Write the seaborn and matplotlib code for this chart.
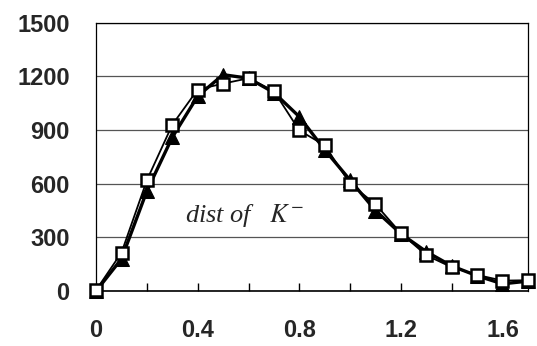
import pandas as pd
import seaborn as sns
import matplotlib.pyplot as plt
from matplotlib.ticker import MultipleLocator, FixedLocator

# data
x_vals = [0.0, 0.1, 0.2, 0.3, 0.4, 0.5, 0.6, 0.7, 0.8, 0.9,
          1.0, 1.1, 1.2, 1.3, 1.4, 1.5, 1.6, 1.7]
tri_vals = [0, 180, 560, 860, 1090, 1210, 1190, 1110, 975, 790,
            620, 450, 320, 220, 140, 85, 40, 55]
sq_vals = [5, 215, 620, 930, 1127, 1160, 1190, 1118, 898, 815,
           600, 485, 323, 200, 133, 90, 58, 60]
x_labels = ['0', '0.4', '0.8', '1.2', '1.6']
y_ticks = [0, 300, 600, 900, 1200, 1500]

df = pd.DataFrame({'x': x_vals, 'tri': tri_vals, 'sq': sq_vals})

sns.set_style('white')
plt.rcParams['font.family'] = ['Liberation Sans', 'DejaVu Sans']
plt.rcParams['mathtext.fontset'] = 'stix'

fig = plt.figure(figsize=(5.37, 3.46), dpi=100)
ax = fig.add_axes([0.179, 0.159, 0.804, 0.775])

sns.lineplot(data=df, x='x', y='tri', ax=ax, color='black', linewidth=2.4,
             marker='^', markersize=10, markerfacecolor='black',
             markeredgecolor='black', zorder=3, clip_on=False)
sns.lineplot(data=df, x='x', y='sq', ax=ax, color='black', linewidth=1.3,
             marker='s', markersize=9, markerfacecolor='white',
             markeredgecolor='black', markeredgewidth=1.8, zorder=4,
             clip_on=False)

ax.set_xlim(0, 1.7)
ax.set_ylim(0, 1500)
ax.xaxis.set_major_locator(FixedLocator([0, 0.4, 0.8, 1.2, 1.6]))
ax.set_xticklabels(x_labels)
ax.xaxis.set_minor_locator(MultipleLocator(0.2))
ax.set_yticks(y_ticks)
ax.yaxis.grid(True, color='#555555', linewidth=0.9)
ax.set_xlabel('')
ax.set_ylabel('')

for s in ax.spines.values():
    s.set_color('black')
    s.set_linewidth(0.9)
ax.spines['bottom'].set_linewidth(1.2)

ax.tick_params(axis='x', which='both', direction='in', length=6, width=1,
               bottom=True, color='black')
ax.tick_params(axis='x', which='major', labelsize=17, pad=20)
ax.tick_params(axis='y', length=0, labelsize=17, pad=19)
for lab in ax.get_xticklabels() + ax.get_yticklabels():
    lab.set_fontweight('bold')

ax.text(0.585, 424, 'dist of   $K^{-}$', fontsize=19, style='italic',
        family='Liberation Serif', ha='center', va='center')

fig.savefig('out.png', dpi=100)
